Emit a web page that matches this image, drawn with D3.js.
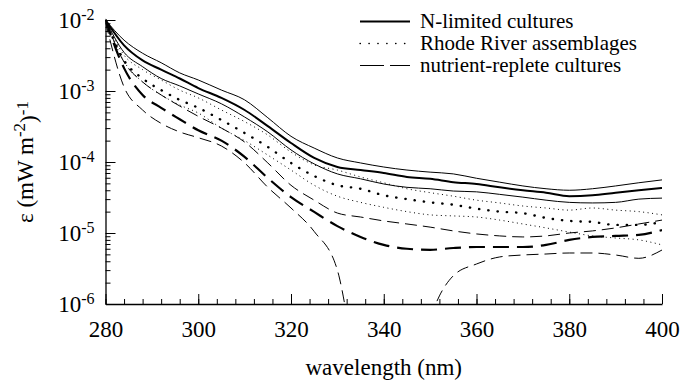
<!DOCTYPE html>
<html>
<head>
<meta charset="utf-8">
<script src="https://cdn.jsdelivr.net/npm/d3@7"></script>
<style>
  body { margin: 0; background: #fff; }
  text { font-family: "Liberation Serif", "Times New Roman", serif; fill: #000; }
</style>
</head>
<body>
<svg id="chart" width="683" height="385"></svg>
<script>
// wavelength grid (nm) shared by most curves
const wavelength = [280, 284, 288, 292, 296, 300, 305, 310, 315, 320, 325, 330, 335, 340, 345, 350, 355, 360, 365, 370, 375, 380, 385, 390, 395, 400];

// N-limited cultures: upper bound, mean, lower bound
const nLimitedHigh = [1.0e-2, 5.2e-3, 3.4e-3, 2.5e-3, 1.8e-3, 1.43e-3, 1.03e-3, 7.5e-4, 4.2e-4, 2.3e-4, 1.57e-4, 1.14e-4, 9.7e-5, 8.5e-5, 7.7e-5, 7.2e-5, 6.8e-5, 5.9e-5, 5.2e-5, 4.6e-5, 4.2e-5, 4.0e-5, 4.2e-5, 4.6e-5, 5.1e-5, 5.6e-5];
const nLimitedMean = [1.0e-2, 4.4e-3, 2.7e-3, 2.0e-3, 1.5e-3, 1.1e-3, 8.0e-4, 5.4e-4, 3.2e-4, 1.85e-4, 1.14e-4, 8.5e-5, 7.7e-5, 7.0e-5, 6.15e-5, 5.8e-5, 5.2e-5, 4.9e-5, 4.4e-5, 4.0e-5, 3.7e-5, 3.3e-5, 3.4e-5, 3.7e-5, 4.0e-5, 4.3e-5];
const nLimitedLow = [1.0e-2, 3.5e-3, 2.2e-3, 1.5e-3, 1.18e-3, 9.1e-4, 6.6e-4, 4.3e-4, 2.65e-4, 1.48e-4, 9.4e-5, 6.8e-5, 5.8e-5, 4.9e-5, 4.4e-5, 4.2e-5, 3.9e-5, 3.8e-5, 3.5e-5, 3.2e-5, 2.9e-5, 2.7e-5, 2.65e-5, 2.7e-5, 3.0e-5, 3.1e-5];

// Rhode River assemblages
const rhodeHigh = [1.0e-2, 3.2e-3, 2.0e-3, 1.43e-3, 1.03e-3, 8.0e-4, 5.4e-4, 3.7e-4, 2.4e-4, 1.38e-4, 9.1e-5, 7.7e-5, 6.15e-5, 5.1e-5, 4.2e-5, 3.7e-5, 3.3e-5, 2.9e-5, 2.65e-5, 2.4e-5, 2.25e-5, 2.1e-5, 2.25e-5, 2.1e-5, 2.0e-5, 1.8e-5];
const rhodeMean = [1.0e-2, 2.7e-3, 1.5e-3, 1.03e-3, 7.5e-4, 5.8e-4, 3.9e-4, 2.56e-4, 1.63e-4, 9.7e-5, 6.35e-5, 4.7e-5, 4.2e-5, 3.4e-5, 3.0e-5, 2.7e-5, 2.5e-5, 2.2e-5, 2.0e-5, 1.9e-5, 1.63e-5, 1.48e-5, 1.43e-5, 1.3e-5, 1.3e-5, 1.43e-5];
const rhodeLow = [1.0e-2, 2.6e-3, 1.34e-3, 8.8e-4, 6.35e-4, 4.9e-4, 3.0e-4, 2.0e-4, 1.25e-4, 7.7e-5, 4.7e-5, 3.3e-5, 2.7e-5, 2.3e-5, 2.0e-5, 1.8e-5, 1.74e-5, 1.68e-5, 1.52e-5, 1.34e-5, 1.18e-5, 1.03e-5, 9.1e-6, 8.5e-6, 8.0e-6, 6.8e-6];

// nutrient-replete cultures
const repleteHigh = [1.0e-2, 2.56e-3, 1.34e-3, 8.8e-4, 6.15e-4, 4.4e-4, 3.0e-4, 1.91e-4, 9.7e-5, 4.7e-5, 2.9e-5, 1.91e-5, 1.68e-5, 1.48e-5, 1.34e-5, 1.21e-5, 1.07e-5, 9.7e-6, 9.1e-6, 8.8e-6, 9.1e-6, 1.0e-5, 1.07e-5, 1.18e-5, 1.34e-5, 1.52e-5];
const repleteMean = [1.0e-2, 2.1e-3, 8.8e-4, 5.8e-4, 4.0e-4, 2.8e-4, 2.0e-4, 1.18e-4, 5.95e-5, 3.2e-5, 1.98e-5, 1.25e-5, 8.8e-6, 6.8e-6, 6.0e-6, 5.8e-6, 6.15e-6, 6.35e-6, 6.35e-6, 6.35e-6, 6.8e-6, 8.0e-6, 8.8e-6, 9.1e-6, 9.4e-6, 1.1e-5];
// lower bound drops below the axis between ~332 and ~351 nm (null = not plotted)
const repleteLowWl = [280, 284, 288, 292, 296, 300, 305, 310, 315, 320, 325, 330, 332, 340, 350, 352, 355, 360, 365, 370, 375, 380, 385, 390, 395, 400];
const repleteLow = [9.4e-3, 1.14e-3, 5.4e-4, 3.5e-4, 2.65e-4, 2.2e-4, 1.68e-4, 9.7e-5, 4.4e-5, 2.25e-5, 1.05e-5, 3.0e-6, 7.0e-7, null, 6.35e-7, 1.3e-6, 2.5e-6, 3.66e-6, 4.6e-6, 4.9e-6, 5.06e-6, 5.23e-6, 5.23e-6, 4.9e-6, 4.4e-6, 5.76e-6];

const xTicks = [280, 300, 320, 340, 360, 380, 400];
const yTicks = [1e-6, 1e-5, 1e-4, 1e-3, 1e-2];
const legendLabels = ["N-limited cultures", "Rhode River assemblages", "nutrient-replete cultures"];

const svg = d3.select("#chart");
const plotLeft = 105.5, plotRight = 662, plotTop = 20, plotBottom = 304;

const x = d3.scaleLinear().domain([280, 400]).range([plotLeft, plotRight]);
const y = d3.scaleLog().domain([1e-6, 1e-2]).range([plotBottom, plotTop]);

// line styles: thin bounds and thick means
const solidThin = { width: 1, dash: null, cap: "butt" };
const solidThick = { width: 2, dash: null, cap: "butt" };
const dotThin = { width: 1, dash: "1,3.5", cap: "butt" };
const dotThick = { width: 2.4, dash: "0.3,9", cap: "round" };
const dashThin = { width: 1, dash: "12,6", cap: "butt" };
const dashThick = { width: 2.2, dash: "16,8", cap: "butt" };

const curves = [
  { wl: wavelength, v: nLimitedHigh, s: solidThin },
  { wl: wavelength, v: nLimitedMean, s: solidThick },
  { wl: wavelength, v: nLimitedLow, s: solidThin },
  { wl: wavelength, v: rhodeHigh, s: dotThin },
  { wl: wavelength, v: rhodeMean, s: dotThick },
  { wl: wavelength, v: rhodeLow, s: dotThin },
  { wl: wavelength, v: repleteHigh, s: dashThin },
  { wl: wavelength, v: repleteMean, s: dashThick },
  { wl: repleteLowWl, v: repleteLow, s: dashThin }
];

svg.append("clipPath").attr("id", "plot-clip")
  .append("rect")
  .attr("x", plotLeft).attr("y", plotTop - 4)
  .attr("width", plotRight - plotLeft).attr("height", plotBottom - plotTop + 4);

const line = d3.line()
  .defined((d) => d[1] != null)
  .x((d) => x(d[0]))
  .y((d) => y(d[1]))
  .curve(d3.curveMonotoneX);

const plot = svg.append("g").attr("clip-path", "url(#plot-clip)");
plot.selectAll(".curve")
  .data(curves)
  .enter()
  .append("path")
  .attr("class", "curve")
  .attr("fill", "none")
  .attr("stroke", "#000")
  .attr("stroke-width", (d) => d.s.width)
  .attr("stroke-dasharray", (d) => d.s.dash)
  .attr("stroke-linecap", (d) => d.s.cap)
  .attr("d", (d) => line(d.wl.map((w, i) => [w, d.v[i]])));

// x axis: minor ticks every 4 nm, major every 20 nm (ticks point inward)
svg.append("g")
  .attr("transform", `translate(0,${plotBottom})`)
  .call(d3.axisBottom(x).tickValues(d3.range(280, 401, 4)).tickSize(-5).tickFormat(""))
  .call((g) => g.select(".domain").remove());

svg.append("g")
  .attr("transform", `translate(0,${plotBottom})`)
  .call(d3.axisBottom(x).tickValues(xTicks).tickSize(-10).tickSizeOuter(0).tickPadding(17).tickFormat(d3.format("d")))
  .attr("font-family", null)
  .attr("font-size", 23);

// y axis: minor ticks at 2..9 of each decade
const yMinor = [];
yTicks.slice(0, -1).forEach((t) => {
  for (let k = 2; k <= 9; k++) yMinor.push(t * k);
});

svg.append("g")
  .attr("transform", `translate(${plotLeft},0)`)
  .call(d3.axisLeft(y).tickValues(yMinor).tickSize(-5).tickFormat(""))
  .call((g) => g.select(".domain").remove());

svg.append("g")
  .attr("transform", `translate(${plotLeft},0)`)
  .call(d3.axisLeft(y).tickValues(yTicks).tickSize(-10).tickSizeOuter(0).tickPadding(11).tickFormat(""))
  .attr("font-family", null)
  .attr("font-size", 23)
  .call((g) => g.selectAll(".tick text").each(function (d) {
    const t = d3.select(this);
    t.append("tspan").text("10");
    t.append("tspan").attr("dy", "-0.5em").attr("font-size", 16).text(Math.round(Math.log10(d)));
  }));

svg.selectAll(".domain").attr("stroke", "#000").attr("stroke-width", 1.3);
svg.selectAll(".tick line").attr("stroke", "#000").attr("stroke-width", 1);

// axis titles
svg.append("text")
  .attr("x", (plotLeft + plotRight) / 2)
  .attr("y", 375)
  .attr("text-anchor", "middle")
  .style("font-size", "23px")
  .text("wavelength (nm)");

const yTitle = svg.append("text")
  .attr("transform", `translate(33,${(plotTop + plotBottom) / 2}) rotate(-90)`)
  .attr("text-anchor", "middle")
  .style("font-size", "23px");
yTitle.append("tspan").text("\u03b5 (mW m");
yTitle.append("tspan").attr("dy", "-0.45em").style("font-size", "17px").text("-2");
yTitle.append("tspan").attr("dy", "0.45em").text(")");
yTitle.append("tspan").attr("dy", "-0.45em").style("font-size", "17px").text("-1");

// legend
const legendStyles = [
  { width: 1.8, dash: null, cap: "butt" },
  { width: 1.3, dash: "0.4,8.5", cap: "round" },
  { width: 1.2, dash: "24,6", cap: "butt" }
];
const legend = svg.append("g").attr("transform", "translate(360,28)");
legendLabels.forEach((label, i) => {
  const row = legend.append("g").attr("transform", `translate(0,${i * 22})`);
  row.append("line")
    .attr("x1", 0).attr("x2", 50)
    .attr("y1", -6.5).attr("y2", -6.5)
    .attr("stroke", "#000")
    .attr("stroke-width", legendStyles[i].width)
    .attr("stroke-dasharray", legendStyles[i].dash)
    .attr("stroke-linecap", legendStyles[i].cap);
  row.append("text")
    .attr("x", 60)
    .style("font-size", "21px")
    .text(label);
});
</script>
</body>
</html>
